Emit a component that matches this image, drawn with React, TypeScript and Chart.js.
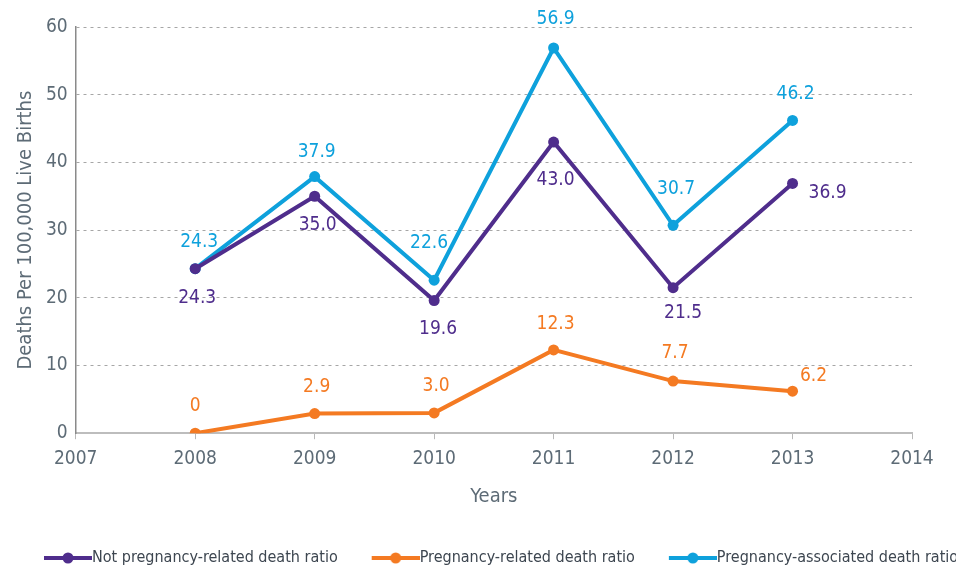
import React, { useEffect, useRef } from "react";
import { Chart, registerables } from "chart.js";

Chart.register(...registerables);

const years = [2008, 2009, 2010, 2011, 2012, 2013];
const notPregnancyRelated = [24.3, 35.0, 19.6, 43.0, 21.5, 36.9];
const pregnancyRelated = [0, 2.9, 3.0, 12.3, 7.7, 6.2];
const pregnancyAssociated = [24.3, 37.9, 22.6, 56.9, 30.7, 46.2];
const seriesNames = [
  "Not pregnancy-related death ratio",
  "Pregnancy-related death ratio",
  "Pregnancy-associated death ratio",
];
const labelText = [
  ["24.3", "35.0", "19.6", "43.0", "21.5", "36.9"],
  ["0", "2.9", "3.0", "12.3", "7.7", "6.2"],
  ["24.3", "37.9", "22.6", "56.9", "30.7", "46.2"],
];

const COLORS = ["#4f2d8c", "#f47a22", "#0ea1dc"];
const FONT = "'DejaVu Sans Condensed', 'DejaVu Sans', sans-serif";
const GRAY = "#5d6b76";

// label offsets (dx, dy) in px relative to the point
const labelOffsets = [
  [[2, 29], [3, 29], [4, 29], [2, 38], [10, 25], [35, 10]],
  [[0, -27], [2, -27], [2, -27], [2, -26], [2, -28], [21, -15]],
  [[4, -27], [2, -25], [-5, -37], [2, -29], [3, -36], [3, -26]],
];

function legendMarker(color: string) {
  const c = document.createElement("canvas");
  c.width = 60;
  c.height = 14;
  const ctx = c.getContext("2d")!;
  ctx.strokeStyle = color;
  ctx.lineWidth = 4;
  ctx.beginPath();
  ctx.moveTo(12, 7);
  ctx.lineTo(60, 7);
  ctx.stroke();
  ctx.fillStyle = color;
  ctx.beginPath();
  ctx.arc(36, 7, 5.5, 0, Math.PI * 2);
  ctx.fill();
  return c;
}

const dataLabelPlugin = {
  id: "dataLabels",
  afterDatasetsDraw(chart: any) {
    const ctx = chart.ctx;
    ctx.save();
    ctx.font = `19px ${FONT}`;
    ctx.textAlign = "center";
    ctx.textBaseline = "middle";
    chart.data.datasets.forEach((ds: any, di: number) => {
      const meta = chart.getDatasetMeta(di);
      meta.data.forEach((pt: any, i: number) => {
        const [dx, dy] = labelOffsets[di][i];
        ctx.fillStyle = COLORS[di];
        ctx.fillText(labelText[di][i], pt.x + dx, pt.y + dy);
      });
    });
    ctx.restore();
  },
};

export default function App() {
  const ref = useRef<HTMLCanvasElement | null>(null);
  useEffect(() => {
    document.body.style.margin = "0";
    const seriesValues = [notPregnancyRelated, pregnancyRelated, pregnancyAssociated];
    const markers = COLORS.map(legendMarker);
    const chart = new Chart(ref.current!, {
      type: "line",
      data: {
        datasets: seriesValues.map((vals, k) => ({
          label: seriesNames[k],
          data: years.map((y, i) => ({ x: y, y: vals[i] })),
          borderColor: COLORS[k],
          backgroundColor: COLORS[k],
          borderWidth: 4,
          pointStyle: "circle",
          pointRadius: 5.5,
          pointHoverRadius: 5.5,
          pointBorderWidth: 0,
          tension: 0,
          yAxisID: "y",
        })),
      },
      options: {
        responsive: false,
        animation: false,
        layout: { padding: { top: 27, right: -40, left: 10, bottom: -9 } },
        scales: {
          x: {
            type: "linear",
            min: 2007,
            max: 2014,
            ticks: {
              stepSize: 1,
              color: GRAY,
              font: { family: FONT, size: 19 },
              callback: (v: any) => String(v),
              padding: 8,
            },
            grid: {
              drawOnChartArea: false,
              drawTicks: true,
              tickLength: 6,
              color: "#b8b8b8",
            },
            border: { color: "#bdbdbd", width: 2 },
            title: {
              display: true,
              text: "Years",
              color: GRAY,
              font: { family: FONT, size: 20 },
              padding: { top: 7, bottom: 11 },
            },
          },
          y: {
            min: 0,
            max: 60,
            ticks: {
              stepSize: 10,
              color: GRAY,
              font: { family: FONT, size: 19 },
              padding: 8,
            },
            grid: {
              drawTicks: false,
              color: (c: any) => (c.tick && c.tick.value === 0 ? "rgba(0,0,0,0)" : "#a6a6a6"),
            },
            border: { color: "#8a8a8a", width: 1.5, dash: [3, 4] as any },
            title: {
              display: true,
              text: "Deaths Per 100,000 Live Births",
              color: GRAY,
              font: { family: FONT, size: 20 },
              padding: { top: 4, bottom: 0 },
            },
          },
          yRight: {
            position: "right",
            display: true,
            min: 0,
            max: 60,
            ticks: { display: false },
            grid: { display: false, drawTicks: false },
            border: { display: false },
            afterFit: (s: any) => {
              s.width = 84;
            },
          },
        },
        plugins: {
          legend: {
            position: "bottom",
            align: "start",
            labels: {
              usePointStyle: true,
              pointStyleWidth: 44,
              color: "#3d4650",
              font: { family: FONT, size: 16 },
              padding: 30,
              generateLabels: (ch: any) =>
                ch.data.datasets.map((ds: any, i: number) => ({
                  text: ds.label,
                  pointStyle: markers[i],
                  fillStyle: COLORS[i],
                  strokeStyle: COLORS[i],
                  fontColor: "#3d4650",
                  lineWidth: 0,
                  hidden: false,
                  datasetIndex: i,
                })),
            },
          },
          tooltip: { enabled: false },
        },
      },
      plugins: [dataLabelPlugin],
    });
    return () => chart.destroy();
  }, []);
  return <canvas ref={ref} width={956} height={567} />;
}
